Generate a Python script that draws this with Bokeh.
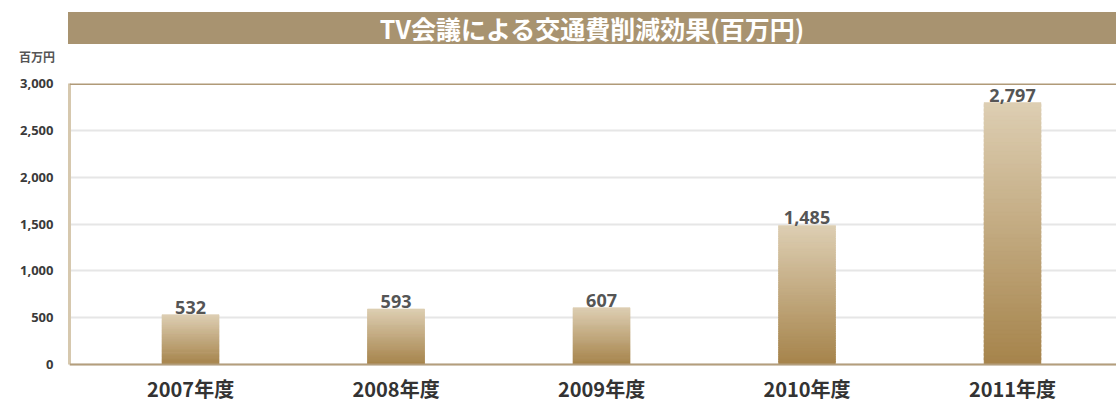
from bokeh.plotting import figure
from bokeh.models import (ColumnDataSource, Range1d, FixedTicker, NumeralTickFormatter,
                          Span, Div)
from bokeh.layouts import column
from bokeh.core.properties import value
from bokeh.embed import file_html
from bokeh.resources import INLINE

# ---- data ----
title_text = "TV会議による交通費削減効果(百万円)"
unit_text = "百万円"
categories = ["2007年度", "2008年度", "2009年度", "2010年度", "2011年度"]
values = [532, 593, 607, 1485, 2797]
value_labels = ["532", "593", "607", "1,485", "2,797"]
y_ticks = [0, 500, 1000, 1500, 2000, 2500, 3000]
y_max = 3000

# ---- style ----
TITLE_BG = "#A89370"
TOP_COL = (221, 206, 178)
BOT_COL = (166, 132, 76)
N_SLICES = 60
BAR_W = 0.277
CJK = "Noto Sans CJK JP"
X_START, X_END = -0.589, 4.506
Y_START = -437.7

xs = list(range(len(categories)))

# gradient slices per bar (overlapping slightly to avoid seams)
sx, sb, st, sc = [], [], [], []
for i, v in zip(xs, values):
    for k in range(N_SLICES):
        f = k / (N_SLICES - 1)
        col = tuple(int(round(BOT_COL[j] + (TOP_COL[j] - BOT_COL[j]) * f)) for j in range(3))
        sx.append(i)
        sb.append(v * k / N_SLICES)
        st.append(min(v, v * (k + 1.6) / N_SLICES))
        sc.append("#%02x%02x%02x" % col)
grad = ColumnDataSource(dict(x=sx, bottom=sb, top=st, color=sc))
lab = ColumnDataSource(dict(x=xs, y=values, t=value_labels))
cat = ColumnDataSource(dict(x=xs, y=[0] * len(xs), t=categories))

header = Div(
    text=(f'<div style="position:relative;width:1116px;height:52px;">'
          f'<div style="position:absolute;left:68px;top:0px;width:1048px;height:32px;'
          f'background:{TITLE_BG};color:#ffffff;font-family:\'{CJK}\';font-weight:bold;'
          f'font-size:25px;text-align:center;line-height:32px;white-space:nowrap;">{title_text}</div>'
          f'<div style="position:absolute;left:0px;top:38px;width:55px;height:14px;'
          f'text-align:right;font-family:\'{CJK}\';font-weight:bold;font-size:12px;'
          f'line-height:14px;color:#555555;white-space:nowrap;">{unit_text}</div>'
          f'</div>'),
    width=1116, height=52, margin=(12, 0, 0, 0))

p = figure(width=1116, height=341, output_backend="svg", toolbar_location=None,
           x_range=Range1d(X_START, X_END), y_range=Range1d(Y_START, y_max),
           min_border_left=69, min_border_right=0, min_border_top=19, min_border_bottom=0,
           margin=(0, 0, 0, 0))
p.outline_line_color = None
p.background_fill_color = "white"
p.border_fill_color = "white"

p.xgrid.grid_line_color = None
p.ygrid.ticker = FixedTicker(ticks=y_ticks)
p.ygrid.grid_line_color = "#E6E6E6"
p.ygrid.grid_line_width = 2

p.vbar(x="x", width=BAR_W, bottom="bottom", top="top", fill_color="color",
       line_color="color", line_width=0.5, source=grad)

p.text(x="x", y="y", text="t", source=lab, text_align="center", text_baseline="bottom",
       y_offset=-1, text_font=value("Noto Sans"), text_font_style="bold",
       text_font_size="18px", text_color="#555555")

p.text(x="x", y="y", text="t", source=cat, text_align="center", text_baseline="middle",
       y_offset=24, text_font=value(CJK), text_font_style="bold",
       text_font_size="20px", text_color="#333333")

p.add_layout(Span(location=y_max, dimension="width", line_color="#B09A78", line_width=3))
p.add_layout(Span(location=0, dimension="width", line_color="#B49E7C", line_width=2))

p.xaxis.visible = False

# y axis
p.yaxis.ticker = FixedTicker(ticks=y_ticks)
p.yaxis.bounds = (0, y_max)
p.yaxis.formatter = NumeralTickFormatter(format="0,0")
p.yaxis.major_label_text_font = "Noto Sans"
p.yaxis.major_label_text_font_style = "bold"
p.yaxis.major_label_text_font_size = "13px"
p.yaxis.major_label_text_color = "#3a3a3a"
p.yaxis.major_label_standoff = 10
p.yaxis.major_tick_line_color = None
p.yaxis.minor_tick_line_color = None
p.yaxis.axis_line_color = "#D6C8AE"
p.yaxis.axis_line_width = 3

layout = column(header, p, spacing=0)
open("out.html", "w").write(file_html(layout, INLINE))
